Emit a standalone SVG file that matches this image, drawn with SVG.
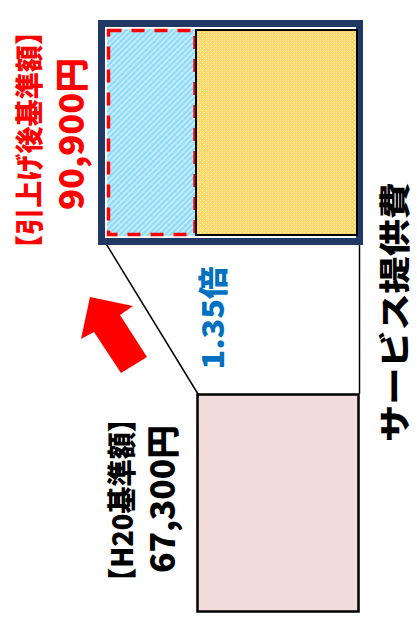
<svg xmlns="http://www.w3.org/2000/svg" width="417" height="618" viewBox="0 0 417 618">
  <style>
    .t { font-family: "Noto Sans CJK JP", "Noto Sans", sans-serif; font-weight: 900; text-anchor: middle; dominant-baseline: central; }
    .red { fill: #ff0000; }
    .blk { fill: #000000; }
    .blue { fill: #0070c0; }
    .conn { stroke: #000; stroke-width: 1.5; fill: none; }
  </style>
  <defs>
    <pattern id="hatch" width="4" height="4" patternUnits="userSpaceOnUse" patternTransform="rotate(-45)">
      <rect width="4" height="4" fill="#8fdbf9"/>
      <rect width="4" height="1.3" fill="#d8f3fd"/>
    </pattern>
    <pattern id="dots" width="4" height="4" patternUnits="userSpaceOnUse">
      <rect width="4" height="4" fill="#fdd86a"/>
      <rect x="0" y="0" width="1" height="1" fill="#fff3cc"/>
      <rect x="2" y="2" width="1" height="1" fill="#fff3cc"/>
    </pattern>
  </defs>

  <g id="connectors">
    <line class="conn" x1="105" y1="242" x2="198" y2="394"/>
    <line class="conn" x1="359.5" y1="237" x2="359.5" y2="394"/>
  </g>

  <g id="after-box">
    <rect x="101.5" y="23.5" width="258" height="218" fill="#ffffff" stroke="#1f3864" stroke-width="7"/>
    <rect x="107" y="29" width="89" height="207" fill="url(#hatch)"/>
    <rect x="108.5" y="30.5" width="86.5" height="204" fill="none" stroke="#ff0000" stroke-width="3.5" stroke-dasharray="13 10"/>
    <rect x="196" y="30" width="161" height="205" fill="url(#dots)" stroke="#000" stroke-width="2"/>
  </g>

  <g id="h20-box">
    <rect x="197.5" y="394.5" width="161" height="217" fill="#f1dcdb" stroke="#000" stroke-width="2.5"/>
  </g>

  <g id="arrow">
    <polygon points="90,297 133,306 120,315 147,357 121,373 94,332 81,339" fill="#ff0000"/>
  </g>

  <g id="label-after">
    <text class="t red" font-size="28" transform="translate(27.5,140) rotate(-90)" textLength="244" lengthAdjust="spacingAndGlyphs">【引上げ後基準額】</text>
    <text class="t red" font-size="34" transform="translate(69,134) rotate(-90)" textLength="152" lengthAdjust="spacingAndGlyphs">90,900円</text>
  </g>

  <g id="label-ratio">
    <text class="t blue" font-size="30" transform="translate(211,318) rotate(-90)" textLength="103" lengthAdjust="spacingAndGlyphs">1.35倍</text>
  </g>

  <g id="label-h20">
    <text class="t blk" font-size="29" transform="translate(120,500) rotate(-90)" textLength="190" lengthAdjust="spacingAndGlyphs">【H20基準額】</text>
    <text class="t blk" font-size="33" transform="translate(161,499) rotate(-90)" textLength="148" lengthAdjust="spacingAndGlyphs">67,300円</text>
  </g>

  <g id="label-service">
    <text class="t blk" font-size="31" transform="translate(392,312) rotate(-90)" textLength="260" lengthAdjust="spacingAndGlyphs">サービス提供費</text>
  </g>
</svg>
